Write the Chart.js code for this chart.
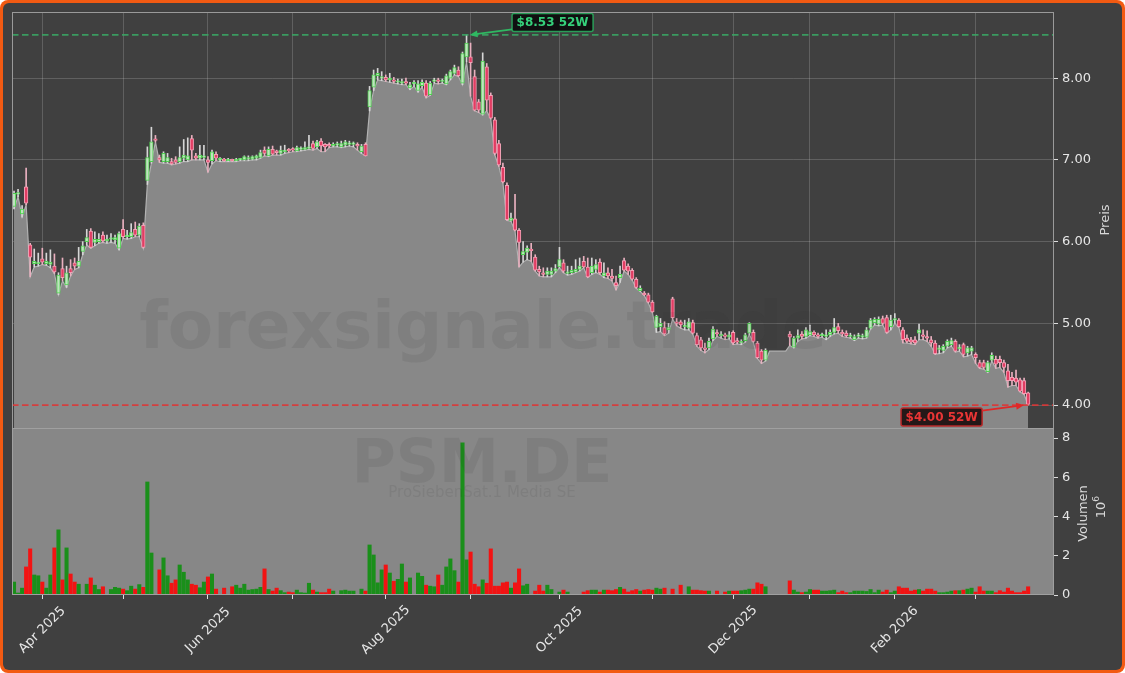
<!DOCTYPE html>
<html>
<head>
<meta charset="utf-8">
<script src="https://cdn.jsdelivr.net/npm/chart.js@4.4.1/dist/chart.umd.min.js"></script>
<style>
  html, body { margin: 0; padding: 0; background: #ffffff; }
  canvas { display: block; }
</style>
</head>
<body>
<canvas id="chart" width="1125" height="673"></canvas>
<script>
  // Daily OHLC (EUR) and volume (millions), trading days from 21 Mar 2025
  const open = [
    6.43,6.58,6.34,6.67,5.96,5.73,5.73,5.79,5.73,5.72,
    5.70,5.37,5.67,5.47,5.67,5.74,5.70,5.88,6.00,6.13,
    5.99,6.00,6.08,6.01,6.03,6.02,5.92,6.15,6.06,6.06,
    6.15,6.08,6.20,6.75,6.98,7.25,7.03,6.98,6.98,6.98,
    7.00,6.98,7.02,7.00,7.26,7.05,7.02,7.03,7.00,6.99,
    7.07,7.00,7.01,6.99,7.00,6.99,7.00,7.00,7.01,7.01,
    7.02,7.03,7.12,7.05,7.13,7.11,7.08,7.10,7.12,7.13,
    7.11,7.13,7.13,7.14,7.20,7.16,7.23,7.19,7.19,7.17,
    7.18,7.16,7.18,7.19,7.19,7.19,7.10,7.19,7.65,7.89,
    8.03,8.00,8.01,7.98,7.98,7.95,7.94,7.95,7.88,7.93,
    7.85,7.91,7.94,7.80,7.96,7.98,7.96,7.93,8.00,8.06,
    8.10,7.94,8.26,8.26,8.02,7.71,7.56,8.14,7.79,7.49,
    7.20,6.91,6.69,6.26,6.28,6.14,5.84,5.87,5.90,5.81,
    5.66,5.62,5.60,5.60,5.64,5.69,5.74,5.61,5.62,5.63,
    5.66,5.76,5.69,5.62,5.66,5.75,5.58,5.62,5.58,5.50,
    5.56,5.77,5.70,5.65,5.54,5.40,5.37,5.35,5.26,4.95,
    4.96,4.95,4.92,5.30,5.02,5.02,4.96,4.94,5.01,4.85,
    4.80,4.70,4.70,4.81,4.88,4.85,4.86,4.83,4.89,4.78,
    4.76,4.79,4.88,4.89,4.76,4.66,4.55,null,null,null,
    null,null,4.87,4.71,4.82,4.87,4.84,4.86,4.89,4.86,
    4.85,4.84,4.86,4.89,4.96,4.89,4.88,4.84,4.80,4.84,
    4.83,4.83,4.94,5.01,4.99,5.06,5.07,4.96,5.04,5.04,
    4.92,4.82,4.80,4.80,4.88,4.86,4.84,4.80,4.76,4.68,
    4.67,4.72,4.74,4.78,4.69,4.74,4.64,4.66,4.62,4.52,
    4.52,4.41,4.55,4.56,4.56,4.52,4.42,4.34,4.33,4.31,
    4.30,4.15
  ];
  const high = [
    6.62,6.64,6.44,6.90,5.98,5.91,5.86,5.92,5.86,5.90,
    5.85,5.62,5.80,5.70,5.78,5.80,5.93,6.00,6.15,6.16,
    6.12,6.10,6.12,6.08,6.10,6.08,6.12,6.27,6.14,6.22,
    6.24,6.22,6.23,7.16,7.40,7.30,7.06,7.10,7.08,7.02,
    7.04,7.16,7.25,7.27,7.30,7.08,7.18,7.18,7.04,7.12,
    7.10,7.03,7.02,7.02,7.01,7.02,7.02,7.05,7.05,7.05,
    7.06,7.12,7.16,7.16,7.17,7.12,7.17,7.18,7.14,7.15,
    7.17,7.16,7.22,7.30,7.23,7.24,7.26,7.20,7.21,7.21,
    7.22,7.23,7.24,7.23,7.22,7.21,7.19,7.21,7.90,8.10,
    8.12,8.08,8.04,8.06,8.01,7.99,7.99,8.00,7.95,7.97,
    7.97,7.98,7.97,7.96,8.00,8.00,7.99,8.05,8.10,8.16,
    8.14,8.32,8.53,8.43,8.10,7.74,8.31,8.18,7.82,7.52,
    7.24,6.96,6.72,6.35,6.58,6.16,6.00,5.95,5.98,5.84,
    5.70,5.68,5.68,5.68,5.72,5.93,5.78,5.70,5.70,5.78,
    5.80,5.82,5.80,5.80,5.78,5.79,5.74,5.68,5.66,5.58,
    5.70,5.80,5.73,5.67,5.56,5.46,5.39,5.37,5.28,5.10,
    5.06,5.02,5.00,5.32,5.06,5.04,5.04,5.06,5.04,4.88,
    4.83,4.76,4.82,4.96,4.92,4.90,4.88,4.90,4.91,4.82,
    4.80,4.88,5.01,4.92,4.78,4.68,4.69,null,null,null,
    null,null,4.90,4.84,4.92,4.90,4.95,4.98,4.91,4.88,
    4.88,4.92,4.92,5.06,5.00,4.92,4.91,4.88,4.86,4.88,
    4.87,4.95,5.06,5.07,5.08,5.09,5.10,5.10,5.12,5.06,
    4.95,4.86,4.83,4.84,4.99,4.92,4.91,4.84,4.79,4.73,
    4.74,4.80,4.82,4.80,4.74,4.76,4.72,4.72,4.64,4.55,
    4.55,4.54,4.64,4.60,4.60,4.55,4.50,4.40,4.43,4.33,
    4.33,4.16
  ];
  const low = [
    6.40,6.55,6.30,6.45,5.57,5.69,5.70,5.72,5.71,5.68,
    5.61,5.35,5.52,5.44,5.58,5.66,5.68,5.84,5.96,5.92,
    5.95,5.98,5.99,5.98,5.99,5.98,5.90,6.04,6.03,6.04,
    6.06,6.06,5.92,6.70,6.96,7.22,6.97,6.96,6.96,6.94,
    6.95,6.96,6.98,6.98,7.00,7.00,7.00,7.00,6.85,6.95,
    6.99,6.98,6.98,6.98,6.98,6.98,6.99,6.99,6.99,7.00,
    7.00,7.02,7.05,7.04,7.06,7.06,7.06,7.08,7.09,7.10,
    7.10,7.11,7.12,7.13,7.12,7.14,7.10,7.10,7.15,7.16,
    7.16,7.15,7.16,7.17,7.16,7.12,7.08,7.05,7.60,7.85,
    7.98,7.97,7.96,7.95,7.94,7.93,7.92,7.92,7.86,7.90,
    7.83,7.89,7.76,7.79,7.94,7.93,7.94,7.92,7.98,8.04,
    8.02,7.92,8.20,7.78,7.60,7.58,7.55,7.60,7.50,7.06,
    6.92,6.72,6.26,6.25,6.13,5.69,5.75,5.78,5.76,5.64,
    5.58,5.57,5.57,5.57,5.62,5.68,5.62,5.59,5.60,5.62,
    5.64,5.68,5.56,5.60,5.62,5.60,5.56,5.55,5.52,5.41,
    5.50,5.64,5.60,5.53,5.43,5.39,5.34,5.25,5.13,4.89,
    4.90,4.85,4.88,5.05,4.97,4.94,4.92,4.92,4.87,4.72,
    4.67,4.64,4.68,4.79,4.84,4.82,4.80,4.81,4.74,4.75,
    4.74,4.77,4.86,4.77,4.57,4.51,4.54,4.66,4.66,4.66,
    4.66,4.66,4.73,4.70,4.78,4.81,4.82,4.85,4.84,4.82,
    4.83,4.80,4.84,4.87,4.88,4.84,4.83,4.82,4.79,4.82,
    4.81,4.82,4.93,4.98,4.97,4.98,4.88,4.92,5.00,4.95,
    4.76,4.76,4.75,4.74,4.80,4.80,4.78,4.72,4.62,4.63,
    4.64,4.70,4.72,4.65,4.66,4.59,4.60,4.62,4.51,4.45,
    4.44,4.40,4.54,4.45,4.46,4.40,4.22,4.24,4.24,4.16,
    4.13,4.00
  ];
  const close = [
    6.59,6.60,6.40,6.47,5.81,5.76,5.75,5.75,5.76,5.75,
    5.63,5.59,5.56,5.62,5.62,5.70,5.76,5.95,6.05,5.93,
    6.03,6.03,6.01,6.03,6.04,6.05,6.10,6.06,6.08,6.11,
    6.08,6.19,5.93,7.03,7.22,7.24,7.00,7.08,7.03,6.95,
    6.97,7.03,7.06,7.05,7.12,7.02,7.06,7.05,6.97,7.10,
    7.02,7.00,6.99,7.00,6.99,7.00,7.01,7.04,7.03,7.04,
    7.05,7.09,7.08,7.13,7.07,7.09,7.12,7.12,7.11,7.12,
    7.15,7.14,7.15,7.16,7.14,7.22,7.17,7.16,7.17,7.19,
    7.20,7.20,7.22,7.20,7.19,7.17,7.17,7.05,7.85,8.04,
    8.06,8.02,7.98,8.00,7.96,7.96,7.96,7.94,7.92,7.95,
    7.93,7.95,7.78,7.94,7.98,7.96,7.97,8.03,8.08,8.13,
    8.03,8.30,8.43,8.19,7.61,7.61,8.21,7.73,7.51,7.08,
    6.94,6.73,6.27,6.29,6.14,5.99,5.88,5.92,5.89,5.65,
    5.63,5.60,5.64,5.64,5.67,5.78,5.64,5.63,5.65,5.66,
    5.70,5.69,5.57,5.70,5.72,5.62,5.62,5.58,5.55,5.46,
    5.60,5.65,5.64,5.54,5.44,5.43,5.35,5.26,5.14,5.09,
    5.00,4.87,4.95,5.07,5.00,4.98,4.98,5.02,4.88,4.74,
    4.70,4.68,4.78,4.93,4.87,4.86,4.84,4.86,4.76,4.77,
    4.78,4.86,5.00,4.78,4.58,4.55,4.67,null,null,null,
    null,null,4.83,4.82,4.85,4.84,4.92,4.90,4.86,4.84,
    4.86,4.86,4.89,4.95,4.91,4.87,4.85,4.85,4.84,4.86,
    4.85,4.92,5.04,5.05,5.05,5.00,4.89,5.04,5.06,4.96,
    4.80,4.78,4.77,4.76,4.92,4.84,4.82,4.76,4.63,4.70,
    4.72,4.78,4.79,4.66,4.71,4.62,4.70,4.70,4.58,4.46,
    4.46,4.52,4.61,4.50,4.52,4.46,4.30,4.30,4.28,4.17,
    4.14,4.01
  ];
  const volume = [
    0.66,0.10,0.35,1.43,2.35,1.02,0.98,0.66,0.35,1.02,
    2.40,3.32,0.77,2.40,1.07,0.66,0.55,0,0.55,0.87,
    0.50,0.28,0.42,0,0.28,0.39,0.35,0.30,0.22,0.45,
    0.30,0.53,0.39,5.76,2.14,0,1.28,1.89,0.98,0.60,
    0.77,1.53,1.16,0.77,0.55,0.50,0.37,0.66,0.92,1.07,
    0.30,0,0.35,0,0.42,0.50,0.35,0.55,0.25,0.28,
    0.30,0.39,1.33,0.28,0.20,0.35,0.22,0.12,0.15,0.12,
    0.25,0.12,0.10,0.60,0.25,0.15,0.12,0.12,0.30,0.20,
    0,0.22,0.25,0.20,0.20,0,0.30,0.20,2.55,2.04,
    0.62,1.28,1.53,1.12,0.70,0.80,1.58,0.66,0.87,0,
    1.12,0.95,0.50,0.45,0.42,1.02,0.50,1.43,1.84,1.24,
    0.66,7.75,1.79,2.19,0.55,0.42,0.77,0.60,2.35,0.45,
    0.45,0.62,0.66,0.35,0.62,1.33,0.47,0.55,0,0.20,
    0.50,0.20,0.50,0.28,0,0.15,0.25,0.15,0,0,
    0,0.15,0.22,0.25,0.25,0.15,0.25,0.25,0.22,0.28,
    0.39,0.30,0.15,0.22,0.28,0.20,0.25,0.28,0.25,0.35,
    0.30,0.35,0,0.30,0,0.50,0,0.42,0.25,0.25,
    0.22,0.20,0.20,0,0.20,0,0.15,0.20,0.20,0.20,
    0.22,0.25,0.30,0.30,0.62,0.55,0.42,0,0,0,
    0,0,0.72,0.25,0.15,0.12,0.15,0.28,0.25,0.25,
    0.20,0.20,0.22,0.25,0.12,0.20,0.12,0.12,0.20,0.20,
    0.20,0.18,0.28,0.12,0.25,0.15,0.25,0.12,0.20,0.42,
    0.35,0.35,0.20,0.25,0.28,0.20,0.30,0.30,0.20,0.12,
    0.12,0.15,0.20,0.22,0.22,0.25,0.30,0.35,0.15,0.42,
    0.20,0.20,0.20,0.12,0.22,0.15,0.35,0.20,0.12,0.12,
    0.20,0.42
  ];

  // axis ticks
  const monthTicks = [7, 27, 48, 69, 92, 113, 135, 158, 178, 197, 218, 238];
  const monthLabels = ['Apr 2025', '', 'Jun 2025', '', 'Aug 2025', '', 'Oct 2025', '', 'Dec 2025', '', 'Feb 2026', ''];
  const priceTicks = [4, 5, 6, 7, 8];
  const volumeTicks = [0, 2, 4, 6, 8];

  const days = open.map((_, i) => i);
  const isUp = close.map((c, i) => c != null && c >= open[i]);
  const bodies = open.map((o, i) => (o == null ? null : [o, close[i]]));
  const wicks = high.map((h, i) => (h == null ? null : [low[i], h]));

  const hiVal = Math.max(...high.filter(v => v != null));
  const hiIdx = high.indexOf(hiVal);
  const loVal = Math.min(...low);
  const loIdx = low.lastIndexOf(loVal);

  const FONT = '"DejaVu Sans", sans-serif';
  const textColor = '#e6e6e6';

  function drawArrow(c, x1, y1, x2, y2, color) {
    const ang = Math.atan2(y2 - y1, x2 - x1);
    c.strokeStyle = color;
    c.fillStyle = color;
    c.lineWidth = 1.6;
    c.beginPath();
    c.moveTo(x1, y1);
    c.lineTo(x2 - 6 * Math.cos(ang), y2 - 6 * Math.sin(ang));
    c.stroke();
    c.beginPath();
    c.moveTo(x2, y2);
    c.lineTo(x2 - 8 * Math.cos(ang) + 3.5 * Math.sin(ang), y2 - 8 * Math.sin(ang) - 3.5 * Math.cos(ang));
    c.lineTo(x2 - 8 * Math.cos(ang) - 3.5 * Math.sin(ang), y2 - 8 * Math.sin(ang) + 3.5 * Math.cos(ang));
    c.closePath();
    c.fill();
  }

  function drawTag(c, text, left, top, fill, border, color) {
    c.font = 'bold 12px ' + FONT;
    const w = c.measureText(text).width + 9;
    c.beginPath();
    c.roundRect(left, top, w, 18, 2);
    c.fillStyle = fill;
    c.fill();
    c.lineWidth = 1.5;
    c.strokeStyle = border;
    c.stroke();
    c.fillStyle = color;
    c.textAlign = 'left';
    c.textBaseline = 'middle';
    c.fillText(text, left + 4.5, top + 9.5);
    return w;
  }

  const deco = {
    id: 'deco',
    beforeDraw(chart) {
      const c = chart.ctx;
      c.save();
      c.fillStyle = '#ffffff';
      c.fillRect(0, 0, chart.width, chart.height);
      c.beginPath();
      c.roundRect(0, 0, chart.width, chart.height, 8);
      c.fillStyle = '#f25a12';
      c.fill();
      c.beginPath();
      c.roundRect(3, 3, chart.width - 6, chart.height - 6, 6);
      c.fillStyle = '#404040';
      c.fill();
      c.restore();
    },
    beforeDatasetsDraw(chart) {
      const { x, yv } = chart.scales;
      const c = chart.ctx;
      c.save();
      c.fillStyle = '#878787';
      c.fillRect(x.left, yv.top, x.right - x.left, yv.bottom - yv.top);
      c.restore();
    },
    afterDatasetsDraw(chart) {
      const { x, y, yv } = chart.scales;
      const c = chart.ctx;
      c.save();

      // watermark
      c.textAlign = 'center';
      c.textBaseline = 'alphabetic';
      c.fillStyle = 'rgba(40,40,40,0.09)';
      c.font = 'bold 66px ' + FONT;
      c.fillText('forexsignale.trade', 483, 348);
      c.font = 'bold 60px ' + FONT;
      c.fillText('PSM.DE', 482, 482);
      c.font = '15px ' + FONT;
      c.fillText('ProSiebenSat.1 Media SE', 482, 497);

      // 52 week high / low lines
      const yHi = y.getPixelForValue(hiVal);
      const yLo = y.getPixelForValue(loVal);
      c.setLineDash([6.5, 3.5]);
      c.lineWidth = 1.6;
      c.strokeStyle = 'rgba(58,165,100,0.9)';
      c.beginPath(); c.moveTo(x.left, yHi); c.lineTo(x.right, yHi); c.stroke();
      c.strokeStyle = 'rgba(220,55,55,0.9)';
      c.beginPath(); c.moveTo(x.left, yLo); c.lineTo(x.right, yLo); c.stroke();
      c.setLineDash([]);

      // tags with arrows
      const xHi = x.getPixelForValue(hiIdx);
      const xLo = x.getPixelForValue(loIdx);
      drawTag(c, '$' + hiVal.toFixed(2) + ' 52W', xHi + 45.5, yHi - 21.5, 'rgba(12,12,12,0.92)', '#2a9d58', '#35d07a');
      drawArrow(c, xHi + 45.5, yHi - 5.5, xHi + 3, yHi, '#2fb862');
      c.font = 'bold 12px ' + FONT;
      const wLo = c.measureText('$' + loVal.toFixed(2) + ' 52W').width + 9;
      drawTag(c, '$' + loVal.toFixed(2) + ' 52W', xLo - 46 - wLo, yLo + 3, 'rgba(28,14,14,0.92)', '#b82828', '#e83535');
      drawArrow(c, xLo - 46, yLo + 5.5, xLo - 4, yLo, '#e02828');

      // panel frames
      c.strokeStyle = '#9a9a9a';
      c.lineWidth = 1;
      c.strokeRect(x.left + 0.5, y.top + 0.5, x.right - x.left - 1, y.bottom - y.top);
      c.strokeStyle = '#a0a0a0';
      c.strokeRect(x.left + 0.5, yv.top + 0.5, x.right - x.left - 1, yv.bottom - yv.top - 1);
      c.restore();
    },
    afterDraw(chart) {
      const { x, y, yv } = chart.scales;
      const c = chart.ctx;
      c.save();
      c.fillStyle = textColor;
      c.font = '13px ' + FONT;
      c.textAlign = 'center';
      c.textBaseline = 'middle';
      monthTicks.forEach((t, k) => {
        if (!monthLabels[k]) return;
        c.save();
        c.translate(x.getPixelForValue(t), yv.bottom + 35);
        c.rotate(-Math.PI / 4);
        c.fillText(monthLabels[k], 0, 0);
        c.restore();
      });

      // axis titles
      c.fillStyle = '#d8d8d8';
      c.save();
      c.translate(x.right + 52, (y.top + y.bottom) / 2);
      c.rotate(-Math.PI / 2);
      c.fillText('Preis', 0, 0);
      c.restore();

      const vMid = (yv.top + yv.bottom) / 2;
      c.save();
      c.translate(x.right + 30, vMid + 2);
      c.rotate(-Math.PI / 2);
      c.fillText('Volumen', 0, 0);
      c.restore();

      c.save();
      c.translate(x.right + 48, vMid - 4);
      c.rotate(-Math.PI / 2);
      c.textAlign = 'left';
      c.font = '13px ' + FONT;
      const w10 = c.measureText('10').width;
      c.fillText('10', -(w10 + 5) / 2, 0);
      c.font = '9px ' + FONT;
      c.fillText('6', -(w10 + 5) / 2 + w10, -5);
      c.restore();
      c.restore();
    }
  };

  const ctx = document.getElementById('chart').getContext('2d');
  const chart = new Chart(ctx, {
    type: 'bar',
    data: {
      labels: days,
      datasets: [
        {
          type: 'bar', label: 'Body', data: bodies, xAxisID: 'x', yAxisID: 'y',
          backgroundColor: isUp.map(u => (u ? '#bfe3bf' : '#e23d63')),
          borderColor: isUp.map(u => (u ? '#4fd24f' : '#f2a0b5')),
          borderWidth: 1, borderSkipped: false, barThickness: 3.6, minBarLength: 1.5,
          grouped: false, order: 0
        },
        {
          type: 'bar', label: 'Wick', data: wicks, xAxisID: 'x', yAxisID: 'y',
          backgroundColor: isUp.map(u => (u ? '#d6d6d6' : '#e9b0bf')),
          barThickness: 1, grouped: false, order: 1
        },
        {
          type: 'bar', label: 'Volumen', data: volume, xAxisID: 'x', yAxisID: 'yv',
          backgroundColor: isUp.map(u => (u ? '#1a8f1a' : '#f21313')),
          barThickness: 3.4, grouped: false, order: 2
        },
        {
          type: 'line', label: 'Tief', data: low, xAxisID: 'x', yAxisID: 'y',
          borderColor: '#b2b2b2', borderWidth: 1.2, backgroundColor: '#888888',
          fill: 'start', pointRadius: 0, tension: 0, order: 3
        }
      ]
    },
    options: {
      responsive: false,
      animation: false,
      devicePixelRatio: 1,
      layout: { padding: { left: 12, top: 12, right: 0, bottom: 0 } },
      plugins: { legend: { display: false }, tooltip: { enabled: false } },
      scales: {
        x: {
          type: 'linear', min: -0.5, max: 257.4, offset: false,
          grid: { offset: false, color: 'rgba(255,255,255,0.17)', tickColor: '#dddddd', tickLength: 4 },
          border: { display: false },
          ticks: { display: false },
          afterBuildTicks: s => { s.ticks = monthTicks.map(v => ({ value: v })); },
          afterFit: s => { s.height = 78; }
        },
        y: {
          type: 'linear', position: 'right', stack: 'panels', stackWeight: 416,
          min: 3.72, max: 8.81,
          grid: { color: 'rgba(255,255,255,0.17)', tickColor: '#dddddd', tickLength: 4 },
          border: { display: false },
          ticks: { color: textColor, font: { family: 'DejaVu Sans', size: 13 }, padding: 4, callback: v => v.toFixed(2) },
          afterBuildTicks: s => { s.ticks = priceTicks.map(v => ({ value: v })); },
          afterFit: s => { s.width = 71; }
        },
        yv: {
          type: 'linear', position: 'right', stack: 'panels', stackWeight: 167,
          min: 0, max: 8.51,
          grid: { drawOnChartArea: false, tickColor: '#dddddd', tickLength: 4 },
          border: { display: false },
          ticks: { color: textColor, font: { family: 'DejaVu Sans', size: 13 }, padding: 4, callback: v => String(v) },
          afterBuildTicks: s => { s.ticks = volumeTicks.map(v => ({ value: v })); },
          afterFit: s => { s.width = 71; }
        }
      }
    },
    plugins: [deco]
  });
</script>
</body>
</html>
